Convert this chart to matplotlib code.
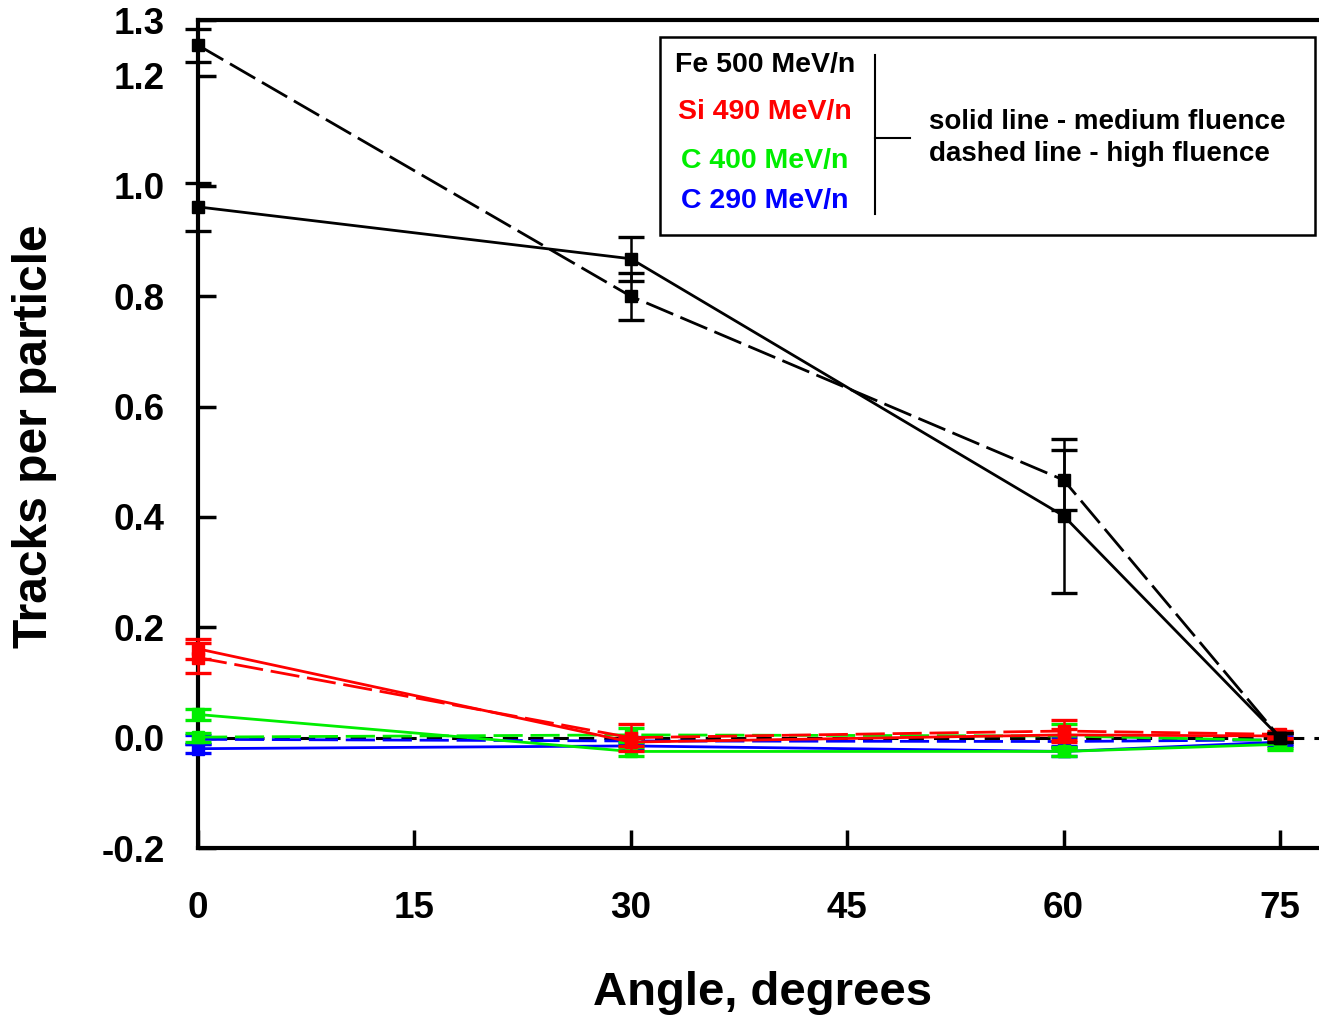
import matplotlib.pyplot as plt
from matplotlib.patches import Rectangle
from matplotlib.lines import Line2D

plt.rcParams['font.family'] = ['Liberation Sans', 'DejaVu Sans']
plt.rcParams['font.weight'] = 'bold'

angles = [0, 30, 60, 75]

# Fe 500 MeV/n
fe_med = [0.962, 0.868, 0.402, 0.0]
fe_med_err = [0.043, 0.040, 0.140, 0.008]
fe_high = [1.255, 0.800, 0.467, 0.0]
fe_high_err = [0.030, 0.043, 0.055, 0.008]

# Si 490 MeV/n
si_med = [0.161, -0.008, 0.005, 0.003]
si_med_err = [0.018, 0.008, 0.010, 0.006]
si_high = [0.145, 0.000, 0.012, 0.006]
si_high_err = [0.027, 0.025, 0.020, 0.006]

# C 400 MeV/n
c400_med = [0.042, -0.025, -0.025, -0.012]
c400_med_err = [0.010, 0.008, 0.008, 0.010]
c400_high = [0.001, 0.005, 0.003, -0.005]
c400_high_err = [0.008, 0.012, 0.022, 0.014]

# C 290 MeV/n
c290_med = [-0.020, -0.015, -0.025, -0.008]
c290_med_err = [0.008, 0.008, 0.008, 0.008]
c290_high = [-0.003, -0.006, -0.007, -0.004]
c290_high_err = [0.008, 0.008, 0.008, 0.008]

legend_labels = ['Fe 500 MeV/n', 'Si 490 MeV/n', 'C 400 MeV/n', 'C 290 MeV/n']
colors = ['black', '#ff0000', '#00ee00', '#0000ff']

W, H = 1319, 1021
fig = plt.figure(figsize=(W / 100, H / 100), dpi=100)
ax = fig.add_axes([198 / W, 173 / H, 1.0 - 198 / W, 827.6 / H])

dash = (0, (10.5, 2.8))
series = [
    (c290_med, c290_med_err, c290_high, c290_high_err, colors[3]),
    (c400_med, c400_med_err, c400_high, c400_high_err, colors[2]),
    (si_med, si_med_err, si_high, si_high_err, colors[1]),
    (fe_med, fe_med_err, fe_high, fe_high_err, colors[0]),
]

ax.axhline(0, color='black', lw=2.2, ls=(0, (5, 3.3)), zorder=1)

for z, (med, med_err, high, high_err, c) in enumerate(series):
    for vals, errs, ls in ((med, med_err, '-'), (high, high_err, dash)):
        ax.errorbar(angles, vals, yerr=errs, color=c, lw=2.0, ls=ls,
                    marker='s', ms=9, mfc=c, mec=c,
                    ecolor=c, elinewidth=1.8, capsize=9.5, capthick=2.4,
                    zorder=3 + z, clip_on=False)

ax.set_xlim(0, 75 * 1121 / 1082)
ax.set_ylim(-0.2, 1.3)
ax.set_xticks([0, 15, 30, 45, 60, 75])
ax.set_yticks([-0.2, 0.0, 0.2, 0.4, 0.6, 0.8, 1.0, 1.2, 1.3])
ax.set_yticklabels(['-0.2', '0.0', '0.2', '0.4', '0.6', '0.8', '1.0', '1.2', '1.3'])

ax.tick_params(axis='both', direction='in', width=2.5, length=13, labelsize=26.5)
ax.tick_params(axis='x', pad=31)
ax.tick_params(axis='y', pad=24)
for lab in ax.get_xticklabels() + ax.get_yticklabels():
    lab.set_fontweight('bold')

ax.spines['right'].set_visible(False)
for s in ('left', 'top', 'bottom'):
    ax.spines[s].set_linewidth(3)

fig.text(763 / W, 1 - 993 / H, 'Angle, degrees', fontsize=34, fontweight='bold',
         ha='center', va='center')
fig.text(35 / W, 1 - 436 / H, 'Tracks per particle', fontsize=34.5, fontweight='bold',
         ha='center', va='center', rotation=90)

# legend box
def px(x, y):
    return x / W, 1 - y / H

box = Rectangle(px(660, 235), 655 / W, 198 / H, transform=fig.transFigure,
                fill=True, facecolor='white', edgecolor='black', lw=1.8, zorder=10)
fig.add_artist(box)
for lab, c, y in zip(legend_labels, colors, [65, 112, 161, 201]):
    fig.text(*px(765, y), lab, color=c, fontsize=20.5, fontweight='bold',
             ha='center', va='center', zorder=11)
fig.add_artist(Line2D([875 / W, 875 / W], [1 - 55 / H, 1 - 214 / H],
                      transform=fig.transFigure, color='black', lw=1.5, zorder=11))
fig.add_artist(Line2D([875 / W, 910 / W], [1 - 138 / H, 1 - 138 / H],
                      transform=fig.transFigure, color='black', lw=1.5, zorder=11))
fig.text(*px(929, 122), 'solid line - medium fluence', fontsize=20,
         fontweight='bold', ha='left', va='center', zorder=11)
fig.text(*px(929, 154), 'dashed line - high fluence', fontsize=20,
         fontweight='bold', ha='left', va='center', zorder=11)

fig.savefig('out.png', dpi=100)
